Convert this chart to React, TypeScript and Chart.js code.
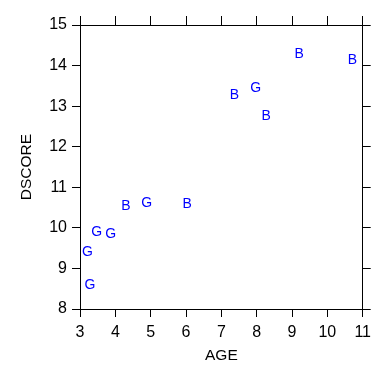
import React, { useEffect, useRef } from "react";
import { Chart, registerables } from "chart.js";

Chart.register(...registerables);

const ageValues = [3.28, 3.21, 3.47, 3.87, 4.3, 4.89, 6.03, 7.37, 7.97, 8.27, 9.2, 10.71];
const dscoreValues = [8.59, 9.4, 9.9, 9.85, 10.54, 10.62, 10.59, 13.27, 13.44, 12.76, 14.28, 14.13];
const sexLabels = ["G", "G", "G", "G", "B", "G", "B", "B", "G", "B", "B", "B"];
const xTitle = "AGE";
const yTitle = "DSCORE";

const FONT = "'Liberation Sans', Arial, sans-serif";

const letterPlugin = {
  id: "letterMarkers",
  afterDatasetsDraw(chart: any) {
    const ctx = chart.ctx;
    const meta = chart.getDatasetMeta(0);
    ctx.save();
    ctx.fillStyle = "#0000ff";
    ctx.font = `14px ${FONT}`;
    ctx.textAlign = "center";
    ctx.textBaseline = "middle";
    meta.data.forEach((el: any, i: number) => {
      ctx.fillText(sexLabels[i], el.x, el.y);
    });
    ctx.restore();
  },
};

export default function App() {
  const ref = useRef<HTMLCanvasElement>(null);
  useEffect(() => {
    if (!ref.current) return;
    const axisCommon = {
      grid: { drawOnChartArea: false, drawTicks: true, tickLength: 8, color: "#000", lineWidth: 1 },
      border: { display: true, color: "#000", width: 1 },
    };
    const chart = new Chart(ref.current, {
      type: "scatter",
      data: {
        datasets: [
          {
            data: ageValues.map((x, i) => ({ x, y: dscoreValues[i] })),
            pointRadius: 0,
            pointHoverRadius: 0,
            backgroundColor: "#0000ff",
          },
        ],
      },
      plugins: [letterPlugin],
      options: {
        responsive: false,
        animation: false,
        events: [],
        layout: { padding: 0 },
        plugins: { legend: { display: false }, tooltip: { enabled: false } },
        scales: {
          x: {
            type: "linear",
            position: "bottom",
            min: 3,
            max: 11,
            ...axisCommon,
            ticks: { stepSize: 1, color: "#000", font: { family: FONT, size: 16 }, padding: 6, maxRotation: 0 },
            title: { display: true, text: xTitle, color: "#000", font: { family: FONT, size: 15.5 }, padding: { top: 0, bottom: 19 } },
            afterFit: (s: any) => { s.height = 75; },
          },
          x2: {
            type: "linear",
            position: "top",
            min: 3,
            max: 11,
            ...axisCommon,
            grid: { ...axisCommon.grid, tickLength: 9 },
            ticks: { stepSize: 1, display: false },
            afterFit: (s: any) => { s.height = 25; },
          },
          y: {
            type: "linear",
            position: "left",
            min: 8,
            max: 15,
            ...axisCommon,
            ticks: { stepSize: 1, color: "#000", font: { family: FONT, size: 16 }, padding: 5 },
            title: { display: true, text: yTitle, color: "#000", font: { family: FONT, size: 15.5 }, padding: { top: 17, bottom: 0 } },
            afterFit: (s: any) => { s.width = 80; },
          },
          y2: {
            type: "linear",
            position: "right",
            min: 8,
            max: 15,
            ...axisCommon,
            ticks: { stepSize: 1, display: false },
            afterFit: (s: any) => { s.width = 11; },
          },
        },
      } as any,
    });
    return () => chart.destroy();
  }, []);
  return (
    <div style={{ position: "fixed", left: 0, top: 0, width: 377, height: 384, background: "#fff" }}>
      <canvas ref={ref} width={377} height={384} style={{ width: 377, height: 384 }} />
    </div>
  );
}
